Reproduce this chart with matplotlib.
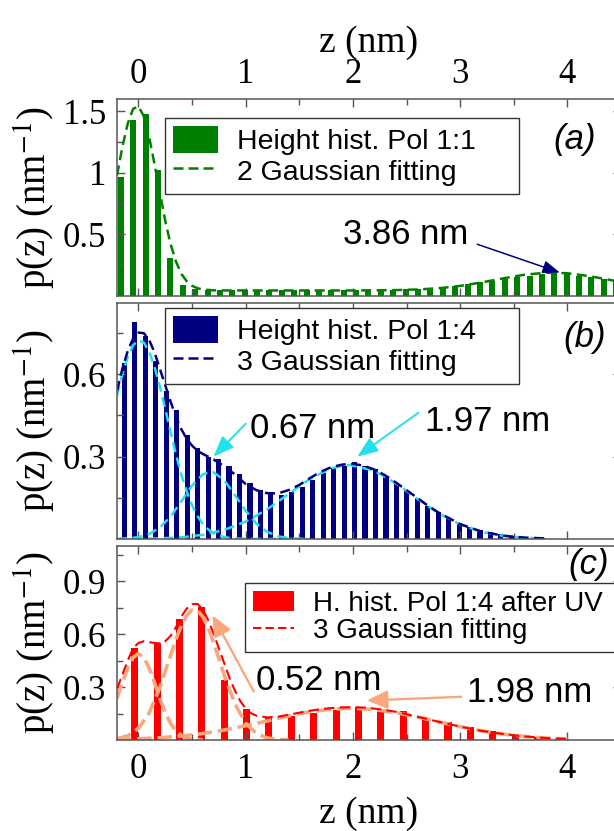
import matplotlib
matplotlib.use("Agg")
import matplotlib.pyplot as plt
from matplotlib.patches import Patch
from matplotlib.lines import Line2D

plt.rcParams['font.family'] = 'serif'
plt.rcParams['font.serif'] = ['Liberation Serif', 'DejaVu Serif']
plt.rcParams['mathtext.fontset'] = 'stix'

SANS = ['Liberation Sans', 'DejaVu Sans']

# ---------------- data ----------------
# (a) Pol 1:1
z_hist_a = [-0.165, -0.05, 0.066, 0.182, 0.297, 0.413, 0.528, 0.644, 0.759, 0.875,
            0.99, 1.106, 1.221, 1.337, 1.452, 1.568, 1.683, 1.799, 1.914, 2.03,
            2.145, 2.261, 2.376, 2.492, 2.607, 2.723, 2.838, 2.954, 3.069, 3.185,
            3.3, 3.416, 3.531, 3.647, 3.762, 3.878, 3.993, 4.109, 4.224, 4.34, 4.455]
p_hist_a = [0.97, 1.43, 1.48, 1.02, 0.31, 0.09, 0.06, 0.05, 0.05, 0.045,
            0.045, 0.045, 0.045, 0.045, 0.045, 0.045, 0.045, 0.045, 0.045, 0.045,
            0.045, 0.048, 0.05, 0.055, 0.06, 0.065, 0.075, 0.085, 0.095, 0.11,
            0.125, 0.14, 0.155, 0.165, 0.18, 0.185, 0.18, 0.165, 0.155, 0.135, 0.12]
z_fit_a = [-0.2, -0.15, -0.1, -0.05, 0, 0.05, 0.1, 0.15, 0.2, 0.25, 0.3, 0.35, 0.4,
           0.45, 0.5, 0.55, 0.6, 0.7, 0.8, 1.2, 1.6, 2.0, 2.4, 2.6, 2.8, 3.0, 3.2,
           3.4, 3.6, 3.8, 4.0, 4.2, 4.4, 4.5]
p_fit_a = [0.98, 1.21, 1.40, 1.52, 1.54, 1.46, 1.29, 1.07, 0.84, 0.61, 0.42, 0.28, 0.18,
           0.12, 0.083, 0.063, 0.053, 0.046, 0.045, 0.045, 0.045, 0.045, 0.048, 0.053,
           0.063, 0.082, 0.11, 0.143, 0.173, 0.189, 0.185, 0.162, 0.13, 0.113]

# (b) Pol 1:4
z_hist_b = [-0.13, -0.033, 0.065, 0.163, 0.26, 0.358, 0.455, 0.553, 0.65, 0.748,
            0.845, 0.943, 1.04, 1.138, 1.235, 1.333, 1.43, 1.528, 1.625, 1.723,
            1.82, 1.918, 2.015, 2.113, 2.21, 2.308, 2.405, 2.503, 2.6, 2.698,
            2.795, 2.893, 2.99, 3.088, 3.185, 3.283, 3.38, 3.478, 3.575, 3.673, 3.77]
p_hist_b = [0.64, 0.79, 0.74, 0.65, 0.54, 0.47, 0.38, 0.33, 0.30, 0.29,
            0.265, 0.235, 0.205, 0.18, 0.165, 0.16, 0.17, 0.19, 0.215, 0.24,
            0.26, 0.265, 0.28, 0.265, 0.255, 0.23, 0.205, 0.175, 0.15, 0.12,
            0.10, 0.075, 0.058, 0.045, 0.032, 0.024, 0.017, 0.012, 0.008, 0.005, 0.003]
z_tot_b = [-0.2, -0.15, -0.1, -0.05, 0, 0.05, 0.1, 0.15, 0.2, 0.25, 0.3, 0.35, 0.4, 0.45,
           0.5, 0.55, 0.6, 0.7, 0.8, 0.9, 1.0, 1.1, 1.2, 1.3, 1.4, 1.5, 1.6, 1.7, 1.8,
           1.9, 2.0, 2.1, 2.2, 2.3, 2.4, 2.5, 2.6, 2.7, 2.8, 3.0, 3.2, 3.4, 3.6, 3.8]
p_tot_b = [0.54, 0.62, 0.685, 0.73, 0.752, 0.75, 0.725, 0.68, 0.62, 0.56, 0.50, 0.445,
           0.40, 0.365, 0.34, 0.322, 0.31, 0.29, 0.265, 0.235, 0.20, 0.178, 0.167, 0.166,
           0.178, 0.197, 0.222, 0.245, 0.262, 0.271, 0.274, 0.267, 0.253, 0.232, 0.206,
           0.178, 0.15, 0.121, 0.096, 0.054, 0.027, 0.012, 0.005, 0.002]
z_g1_b = [-0.2, -0.15, -0.1, -0.05, 0, 0.05, 0.1, 0.15, 0.2, 0.25, 0.3, 0.35, 0.4, 0.45,
          0.5, 0.55, 0.6, 0.65, 0.7, 0.75, 0.8, 0.85, 0.9, 1.0, 1.3, 1.6]
p_g1_b = [0.523, 0.60, 0.663, 0.706, 0.724, 0.716, 0.683, 0.627, 0.555, 0.474, 0.389,
          0.308, 0.235, 0.173, 0.123, 0.084, 0.055, 0.035, 0.021, 0.0126, 0.0072, 0.0039,
          0.002, 0.0005, 0.0, 0.0]
z_g2_b = [-0.2, -0.1, 0, 0.1, 0.2, 0.3, 0.4, 0.5, 0.6, 0.67, 0.7, 0.8, 0.9, 1.0, 1.1,
          1.2, 1.3, 1.4, 1.5, 1.6]
p_g2_b = [0.0006, 0.002, 0.0068, 0.018, 0.042, 0.082, 0.137, 0.195, 0.235, 0.245, 0.243,
          0.214, 0.16, 0.103, 0.056, 0.026, 0.010, 0.0035, 0.001, 0.0]
z_g3_b = [-0.2, 0, 0.2, 0.4, 0.6, 0.8, 1.0, 1.2, 1.4, 1.6, 1.8, 1.97, 2.2, 2.4, 2.6,
          2.8, 3.0, 3.2, 3.4, 3.6, 3.8]
p_g3_b = [0.0002, 0.0007, 0.0022, 0.0061, 0.015, 0.033, 0.0635, 0.108, 0.164, 0.219,
          0.258, 0.27, 0.249, 0.203, 0.147, 0.094, 0.053, 0.026, 0.0116, 0.0045, 0.0016]

# (c) Pol 1:4 after UV
z_hist_c = [-0.035, 0.174, 0.382, 0.591, 0.80, 1.009, 1.217, 1.426, 1.635, 1.843,
            2.052, 2.261, 2.469, 2.678, 2.887, 3.096, 3.304, 3.513, 3.722, 3.93]
p_hist_c = [0.52, 0.55, 0.685, 0.755, 0.34, 0.175, 0.132, 0.138, 0.151, 0.17,
            0.183, 0.175, 0.164, 0.123, 0.10, 0.075, 0.05, 0.03, 0.015, 0.006]
z_tot_c = [-0.2, -0.15, -0.1, -0.05, 0, 0.05, 0.1, 0.15, 0.2, 0.25, 0.3, 0.35, 0.4, 0.45,
           0.5, 0.55, 0.6, 0.65, 0.7, 0.75, 0.8, 0.85, 0.9, 0.95, 1.0, 1.05, 1.1, 1.2,
           1.3, 1.4, 1.5, 1.6, 1.7, 1.8, 1.9, 2.0, 2.1, 2.2, 2.3, 2.4, 2.5, 2.6, 2.7,
           2.8, 3.0, 3.2, 3.4, 3.6, 3.8, 4.0]
p_tot_c = [0.29, 0.37, 0.45, 0.52, 0.55, 0.56, 0.555, 0.55, 0.548, 0.56, 0.59, 0.64,
           0.70, 0.745, 0.77, 0.772, 0.74, 0.68, 0.605, 0.52, 0.435, 0.35, 0.28, 0.22,
           0.178, 0.152, 0.138, 0.128, 0.132, 0.143, 0.155, 0.166, 0.175, 0.181, 0.185,
           0.186, 0.184, 0.178, 0.17, 0.16, 0.146, 0.132, 0.118, 0.103, 0.076, 0.052,
           0.034, 0.02, 0.011, 0.006]
z_g1_c = [-0.2, -0.15, -0.1, -0.05, 0, 0.05, 0.1, 0.15, 0.2, 0.25, 0.3, 0.35, 0.4,
          0.45, 0.5, 0.6]
p_g1_c = [0.235, 0.324, 0.408, 0.468, 0.49, 0.468, 0.408, 0.324, 0.235, 0.156, 0.094,
          0.052, 0.026, 0.012, 0.005, 0.001]
z_g2_c = [-0.2, -0.1, 0, 0.1, 0.2, 0.3, 0.35, 0.4, 0.45, 0.5, 0.55, 0.6, 0.65, 0.7,
          0.75, 0.8, 0.9, 1.0, 1.1, 1.2, 1.3, 1.4]
p_g2_c = [0.007, 0.024, 0.066, 0.153, 0.297, 0.48, 0.572, 0.65, 0.708, 0.737, 0.734,
          0.699, 0.636, 0.554, 0.462, 0.367, 0.204, 0.095, 0.037, 0.012, 0.003, 0.001]
z_g3_c = [-0.2, 0, 0.2, 0.4, 0.6, 0.8, 1.0, 1.2, 1.4, 1.6, 1.8, 2.0, 2.2, 2.4, 2.6,
          2.8, 3.0, 3.2, 3.4, 3.6, 3.8, 4.0]
p_g3_c = [0.0034, 0.0069, 0.0129, 0.0225, 0.0368, 0.0564, 0.081, 0.108, 0.136, 0.16,
          0.175, 0.18, 0.173, 0.155, 0.131, 0.103, 0.076, 0.052, 0.034, 0.02, 0.011, 0.006]

xticks = [0, 1, 2, 3, 4]
xminor = [0.5, 1.5, 2.5, 3.5]

GREEN = '#008000'
NAVY = '#000080'
CYAN = '#22E0EE'
RED = '#FF0000'
SALMON = '#F9A87E'
FRAME = '#555555'

fig = plt.figure(figsize=(6.14, 8.31), dpi=100)
L, W = 117 / 614, 504 / 614
ax_a = fig.add_axes([L, 0.6438, W, 0.2371])
ax_b = fig.add_axes([L, 0.3514, W, 0.2840])
ax_c = fig.add_axes([L, 0.1095, W, 0.2335])


def style(ax, ylim, ymaj, ylab, ymin):
    ax.set_xlim(-0.2, 4.5)
    ax.set_ylim(*ylim)
    ax.set_xticks(xticks)
    ax.set_xticks(xminor, minor=True)
    ax.set_yticks(ymaj)
    ax.set_yticklabels(ylab)
    ax.set_yticks(ymin, minor=True)
    ax.tick_params(which='both', direction='in', top=True, right=True,
                   color=FRAME, width=1.0, labelsize=25, pad=8)
    ax.tick_params(which='major', length=6)
    ax.tick_params(which='minor', length=4.5)
    for s in ax.spines.values():
        s.set_color(FRAME)
        s.set_linewidth(1.1)
    ax.set_ylabel('p(z) (nm$^{-1}$)', fontsize=28)
    ax.yaxis.set_label_coords(-0.118, 0.5)


style(ax_a, (0, 1.6), [0.5, 1, 1.5], ['0.5', '1', '1.5'], [0.25, 0.75, 1.25])
style(ax_b, (0, 0.86), [0.3, 0.6], ['0.3', '0.6'], [0.15, 0.45, 0.75])
style(ax_c, (0, 1.1), [0.3, 0.6, 0.9], ['0.3', '0.6', '0.9'], [0.15, 0.45, 0.75, 1.05])

ax_a.tick_params(axis='x', labeltop=True, labelbottom=False, pad=6)
ax_a.xaxis.set_label_position('top')
ax_a.set_xlabel('z (nm)', fontsize=27, labelpad=4)
ax_b.tick_params(axis='x', labelbottom=False)
ax_c.tick_params(axis='x', pad=9)
ax_c.set_xlabel('z (nm)', fontsize=27, labelpad=8)

# ---- (a)
ax_a.bar(z_hist_a, p_hist_a, width=0.056, color=GREEN, linewidth=0)
ax_a.plot(z_fit_a, p_fit_a, color=GREEN, lw=1.8, dashes=(4, 2.2))

# ---- (b)
ax_b.bar(z_hist_b, p_hist_b, width=0.048, color=NAVY, linewidth=0)
for zz, pp in [(z_g1_b, p_g1_b), (z_g2_b, p_g2_b), (z_g3_b, p_g3_b)]:
    ax_b.plot(zz, pp, color=CYAN, lw=1.8, dashes=(4, 2.2))
ax_b.plot(z_tot_b, p_tot_b, color=NAVY, lw=1.8, dashes=(4, 2.2))

# ---- (c)
ax_c.bar(z_hist_c, p_hist_c, width=0.066, color=RED, linewidth=0)
for zz, pp in [(z_g1_c, p_g1_c), (z_g2_c, p_g2_c), (z_g3_c, p_g3_c)]:
    ax_c.plot(zz, pp, color=SALMON, lw=2.6, dashes=(4, 1.6))
ax_c.plot(z_tot_c, p_tot_c, color=RED, lw=1.5, dashes=(5, 2.5))


def arrow(ax, tail, head, color, lw, hl, hw, ms):
    ax.annotate('', xy=head, xytext=tail,
                arrowprops=dict(arrowstyle='-|>,head_length=%g,head_width=%g' % (hl, hw),
                                color=color, lw=lw, mutation_scale=ms,
                                shrinkA=0, shrinkB=0))


ANN = 25
arrow(ax_a, (3.16, 0.42), (3.93, 0.19), NAVY, 1.1, 0.8, 0.3, 13)
ax_a.text(2.49, 0.50, '3.86 nm', fontsize=ANN, family=SANS, ha='center', va='center')

arrow(ax_b, (1.0, 0.42), (0.70, 0.30), CYAN, 1.4, 0.9, 0.35, 14)
arrow(ax_b, (2.61, 0.46), (2.04, 0.30), CYAN, 1.4, 0.9, 0.35, 14)
ax_b.text(1.62, 0.404, '0.67 nm', fontsize=ANN, family=SANS, ha='center', va='center')
ax_b.text(3.26, 0.428, '1.97 nm', fontsize=ANN, family=SANS, ha='center', va='center')

arrow(ax_c, (1.075, 0.275), (0.69, 0.707), SALMON, 1.7, 0.9, 0.4, 14)
arrow(ax_c, (3.01, 0.245), (2.13, 0.224), SALMON, 1.7, 0.9, 0.4, 14)
ax_c.text(1.68, 0.337, '0.52 nm', fontsize=ANN, family=SANS, ha='center', va='center')
ax_c.text(3.65, 0.27, '1.98 nm', fontsize=ANN, family=SANS, ha='center', va='center')

for ax, lab, x, y in [(ax_a, '(a)', 4.07, 1.27), (ax_b, '(b)', 4.16, 0.734),
                      (ax_c, '(c)', 4.2, 0.996)]:
    ax.text(x, y, lab, fontsize=25, family=SANS, style='italic',
            ha='center', va='center')


def legend(ax, color, l1, l2, box, fs, hh, hl, lw_line):
    handles = [Patch(facecolor=color, edgecolor='none'),
               Line2D([], [], color=color, lw=lw_line, dashes=(4, 2))]
    leg = ax.legend(handles, [l1, l2], loc='upper left', bbox_to_anchor=box,
                    mode='expand', borderaxespad=0, fancybox=False,
                    prop={'family': SANS, 'size': fs}, handleheight=hh,
                    handlelength=hl, handletextpad=0.65, borderpad=0.28,
                    labelspacing=0.05, framealpha=1)
    leg.get_frame().set_edgecolor('#333333')
    leg.get_frame().set_linewidth(1.0)


legend(ax_a, GREEN, 'Height hist. Pol 1:1', '2 Gaussian fitting',
       (0.095, 0.503, 0.703, 0.401), 20.5, 1.1, 1.6, 1.8)
legend(ax_b, NAVY, 'Height hist. Pol 1:4', '3 Gaussian fitting',
       (0.095, 0.644, 0.703, 0.335), 20.5, 1.1, 1.6, 1.8)
legend(ax_c, RED, 'H. hist. Pol 1:4 after UV', '3 Gaussian fitting',
       (0.254, 0.433, 0.74, 0.376), 20, 0.7, 1.5, 1.5)

fig.savefig('out.png', dpi=100)
